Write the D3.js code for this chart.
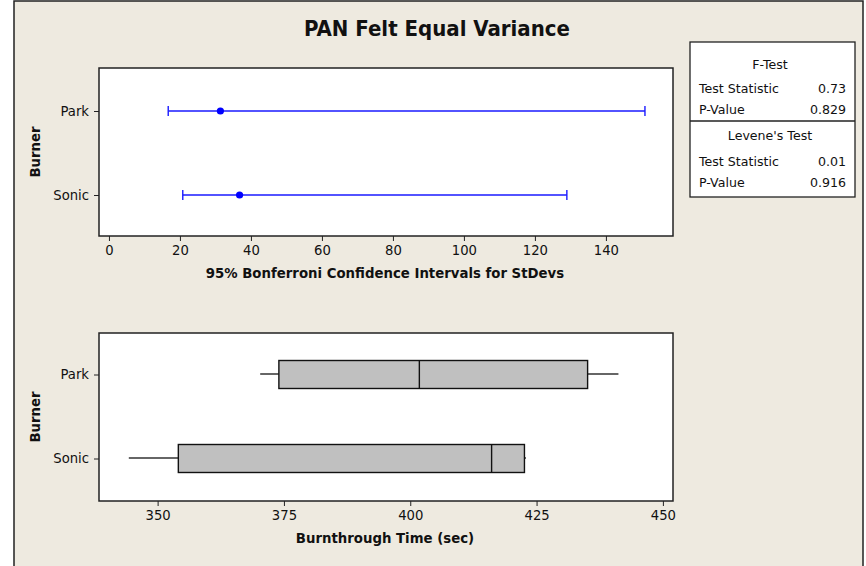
<!DOCTYPE html>
<html lang="en">
<head>
    <meta charset="UTF-8">
    <script src="https://cdn.jsdelivr.net/npm/d3@7"></script>
    <title>PAN Felt Equal Variance</title>
    <style>
        body { margin: 0; background: white; }
        text { font-family: "DejaVu Sans", sans-serif; fill: #111; }
        .title { font-family: "DejaVu Sans Condensed", "DejaVu Sans", sans-serif; font-size: 22px; font-weight: bold; }
        .axis-title { font-size: 13.3px; font-weight: bold; }
        .tick-label { font-size: 13.2px; }
        .stat { font-size: 12.6px; }
    </style>
</head>
<body>
    <div id="chart"></div>
    <script>
        /*------------------- data --------------------*/
        const groups = ["Park", "Sonic"];

        // Bonferroni CIs for StDev
        const ciLower = [16.7, 20.8];
        const ciStDev = [31.4, 36.8];
        const ciUpper = [151.0, 129.0];
        const ciTicks = [0, 20, 40, 60, 80, 100, 120, 140];

        // boxplot of burnthrough time
        const whiskLow = [370.3, 344.3];
        const q1 = [374.0, 354.1];
        const median = [401.8, 416.1];
        const q3 = [435.1, 422.6];
        const whiskHigh = [441.2, 422.9];
        const timeTicks = [350, 375, 400, 425, 450];

        // test results
        const testNames = ["F-Test", "Levene's Test"];
        const statLabels = ["Test Statistic", "P-Value"];
        const fTestValues = ["0.73", "0.829"];
        const leveneValues = ["0.01", "0.916"];

        /*------------------- layout --------------------*/
        const width = 866, height = 566;
        const svg = d3.select("#chart").append("svg")
            .attr("width", width)
            .attr("height", height);

        // beige frame
        svg.append("rect")
            .attr("x", 14).attr("y", 1)
            .attr("width", 849).attr("height", 580)
            .attr("fill", "#EEEAE0")
            .attr("stroke", "#222").attr("stroke-width", 1.5);

        svg.append("text").attr("class", "title")
            .attr("x", 437).attr("y", 36)
            .attr("text-anchor", "middle")
            .text("PAN Felt Equal Variance");

        const plotLeft = 99, plotRight = 673;

        function panel(y0, y1, xDomain, ticks, yRange, xTitle) {
            svg.append("rect")
                .attr("x", plotLeft).attr("y", y0)
                .attr("width", plotRight - plotLeft).attr("height", y1 - y0)
                .attr("fill", "white").attr("stroke", "#222").attr("stroke-width", 1.5);

            const x = d3.scaleLinear().domain(xDomain).range([plotLeft, plotRight]);
            const y = d3.scalePoint().domain(groups).range(yRange);

            const xAxis = svg.append("g")
                .attr("transform", `translate(0,${y1})`)
                .call(d3.axisBottom(x).tickValues(ticks).tickSize(5).tickPadding(5));
            xAxis.select(".domain").remove();
            xAxis.selectAll("line").attr("stroke", "#222");
            xAxis.selectAll("text").attr("class", "tick-label").attr("fill", "#111");
            xAxis.attr("font-family", null).attr("font-size", null);

            const yAxis = svg.append("g")
                .attr("transform", `translate(${plotLeft},0)`)
                .call(d3.axisLeft(y).tickSize(5).tickPadding(5));
            yAxis.select(".domain").remove();
            yAxis.selectAll("line").attr("stroke", "#222");
            yAxis.selectAll("text").attr("class", "tick-label").attr("fill", "#111");
            yAxis.attr("font-family", null).attr("font-size", null);

            svg.append("text").attr("class", "axis-title")
                .attr("x", (plotLeft + plotRight) / 2 - 1).attr("y", y1 + 42)
                .attr("text-anchor", "middle")
                .text(xTitle);

            svg.append("text").attr("class", "axis-title")
                .attr("transform", `translate(40,${(y0 + y1) / 2}) rotate(-90)`)
                .attr("text-anchor", "middle")
                .text("Burner");

            return { x, y };
        }

        /*------------------- top: CI for StDevs --------------------*/
        const ciPanel = panel(68, 236, [-2.8, 158.9], ciTicks, [111, 195],
            "95% Bonferroni Confidence Intervals for StDevs");

        const ci = svg.append("g").attr("stroke", "#1a1aff").attr("stroke-width", 1.4);
        groups.forEach((g, i) => {
            const yy = ciPanel.y(g);
            ci.append("line")
                .attr("x1", ciPanel.x(ciLower[i])).attr("x2", ciPanel.x(ciUpper[i]))
                .attr("y1", yy).attr("y2", yy);
            [ciLower[i], ciUpper[i]].forEach(v => {
                ci.append("line")
                    .attr("x1", ciPanel.x(v)).attr("x2", ciPanel.x(v))
                    .attr("y1", yy - 5).attr("y2", yy + 5);
            });
            svg.append("circle")
                .attr("cx", ciPanel.x(ciStDev[i])).attr("cy", yy)
                .attr("r", 3.6).attr("fill", "#0000ff");
        });

        /*------------------- bottom: boxplot --------------------*/
        const boxPanel = panel(333, 501, [338.4, 452.0], timeTicks, [374.5, 458.5],
            "Burnthrough Time (sec)");

        const boxH = 28;
        groups.forEach((g, i) => {
            const yy = boxPanel.y(g);
            svg.append("line")
                .attr("x1", boxPanel.x(whiskLow[i])).attr("x2", boxPanel.x(q1[i]))
                .attr("y1", yy - 0.5).attr("y2", yy - 0.5)
                .attr("stroke", "#333").attr("stroke-width", 1.5);
            svg.append("line")
                .attr("x1", boxPanel.x(q3[i])).attr("x2", boxPanel.x(whiskHigh[i]))
                .attr("y1", yy - 0.5).attr("y2", yy - 0.5)
                .attr("stroke", "#333").attr("stroke-width", 1.5);
            svg.append("rect")
                .attr("x", boxPanel.x(q1[i])).attr("y", yy - boxH / 2)
                .attr("width", boxPanel.x(q3[i]) - boxPanel.x(q1[i])).attr("height", boxH)
                .attr("fill", "#C0C0C0").attr("stroke", "#111").attr("stroke-width", 1.4);
            svg.append("line")
                .attr("x1", boxPanel.x(median[i])).attr("x2", boxPanel.x(median[i]))
                .attr("y1", yy - boxH / 2).attr("y2", yy + boxH / 2)
                .attr("stroke", "#111").attr("stroke-width", 1.4);
        });

        /*------------------- stats table --------------------*/
        const tbl = svg.append("g");
        tbl.append("rect")
            .attr("x", 690).attr("y", 42).attr("width", 165).attr("height", 155)
            .attr("fill", "white").attr("stroke", "#222").attr("stroke-width", 1.3);
        tbl.append("line")
            .attr("x1", 690).attr("x2", 855).attr("y1", 121).attr("y2", 121)
            .attr("stroke", "#222").attr("stroke-width", 1.3);

        const blocks = [
            { name: testNames[0], vals: fTestValues, y0: 64, gap: 24 },
            { name: testNames[1], vals: leveneValues, y0: 135, gap: 26 }
        ];
        blocks.forEach(b => {
            tbl.append("text").attr("class", "stat")
                .attr("x", 770).attr("y", b.y0 + 4.5)
                .attr("text-anchor", "middle").text(b.name);
            statLabels.forEach((lab, j) => {
                const yy = b.y0 + b.gap + j * 21 + 4.5;
                tbl.append("text").attr("class", "stat")
                    .attr("x", 699).attr("y", yy).text(lab);
                tbl.append("text").attr("class", "stat")
                    .attr("x", 846).attr("y", yy)
                    .attr("text-anchor", "end").text(b.vals[j]);
            });
        });
    </script>
</body>
</html>
